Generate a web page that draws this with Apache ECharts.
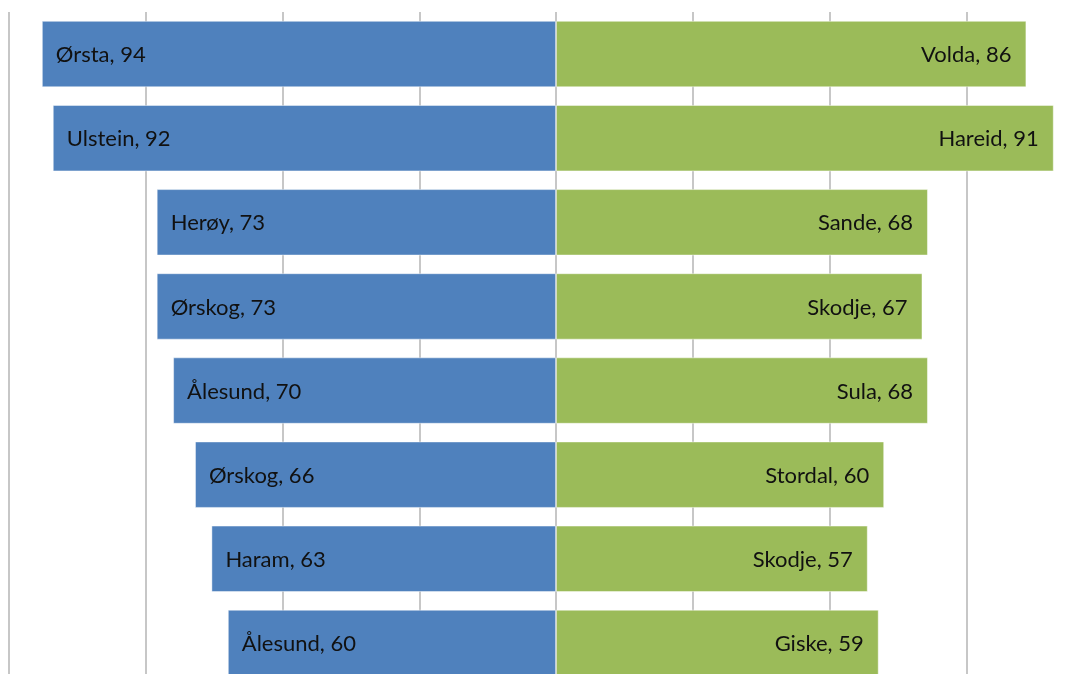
<!DOCTYPE html>
<html>
<head>
<meta charset="utf-8">
<script src="https://cdn.jsdelivr.net/npm/echarts@6/dist/echarts.min.js"></script>
<style>
html,body{margin:0;padding:0;background:#fff;overflow:hidden;}
/* chart area runs past the right and bottom edge of the window, like the cropped original */
#main{width:1103px;height:685px;}
</style>
</head>
<body>
<div id="main"></div>
<script>
// rows, top to bottom
const rows = ['r1','r2','r3','r4','r5','r6','r7','r8'];
const leftNames = ['Ørsta','Ulstein','Herøy','Ørskog','Ålesund','Ørskog','Haram','Ålesund'];
const leftValues = [94, 92, 73, 73, 70, 66, 63, 60];
const rightNames = ['Volda','Hareid','Sande','Skodje','Sula','Stordal','Skodje','Giske'];
const rightValues = [86, 91, 68, 67, 68, 60, 57, 59];

var chart = echarts.init(document.getElementById('main'));

var labelFont = {
  fontFamily: 'Lato, "Open Sans", sans-serif',
  fontSize: 22,
  color: '#111'
};

var option = {
  animation: false,
  grid: {left: 9, top: 12, right: 0, bottom: 0, containLabel: false},
  xAxis: {
    type: 'value',
    min: -100, max: 100, interval: 25,
    axisLabel: {show: false},
    axisLine: {show: false},
    axisTick: {show: false},
    splitLine: {show: true, lineStyle: {color: '#b4b4b4', width: 1.5}}
  },
  yAxis: {
    type: 'category',
    data: rows,
    inverse: true,
    show: false
  },
  series: [
    {
      type: 'bar',
      stack: 'b',
      barCategoryGap: '21%',
      data: leftValues.map(v => -v),
      itemStyle: {color: '#4f81bd', borderColor: 'rgba(255,255,255,0.45)', borderWidth: 1},
      label: Object.assign({
        show: true,
        position: 'insideLeft',
        distance: 14,
        offset: [0, 1],
        formatter: p => leftNames[p.dataIndex] + ', ' + leftValues[p.dataIndex]
      }, labelFont)
    },
    {
      type: 'bar',
      stack: 'b',
      barCategoryGap: '21%',
      data: rightValues,
      itemStyle: {color: '#9bbb59', borderColor: 'rgba(255,255,255,0.45)', borderWidth: 1},
      label: Object.assign({
        show: true,
        position: 'insideRight',
        distance: 15,
        offset: [0, 1],
        formatter: p => rightNames[p.dataIndex] + ', ' + rightValues[p.dataIndex]
      }, labelFont)
    }
  ]
};

chart.setOption(option);
</script>
</body>
</html>
